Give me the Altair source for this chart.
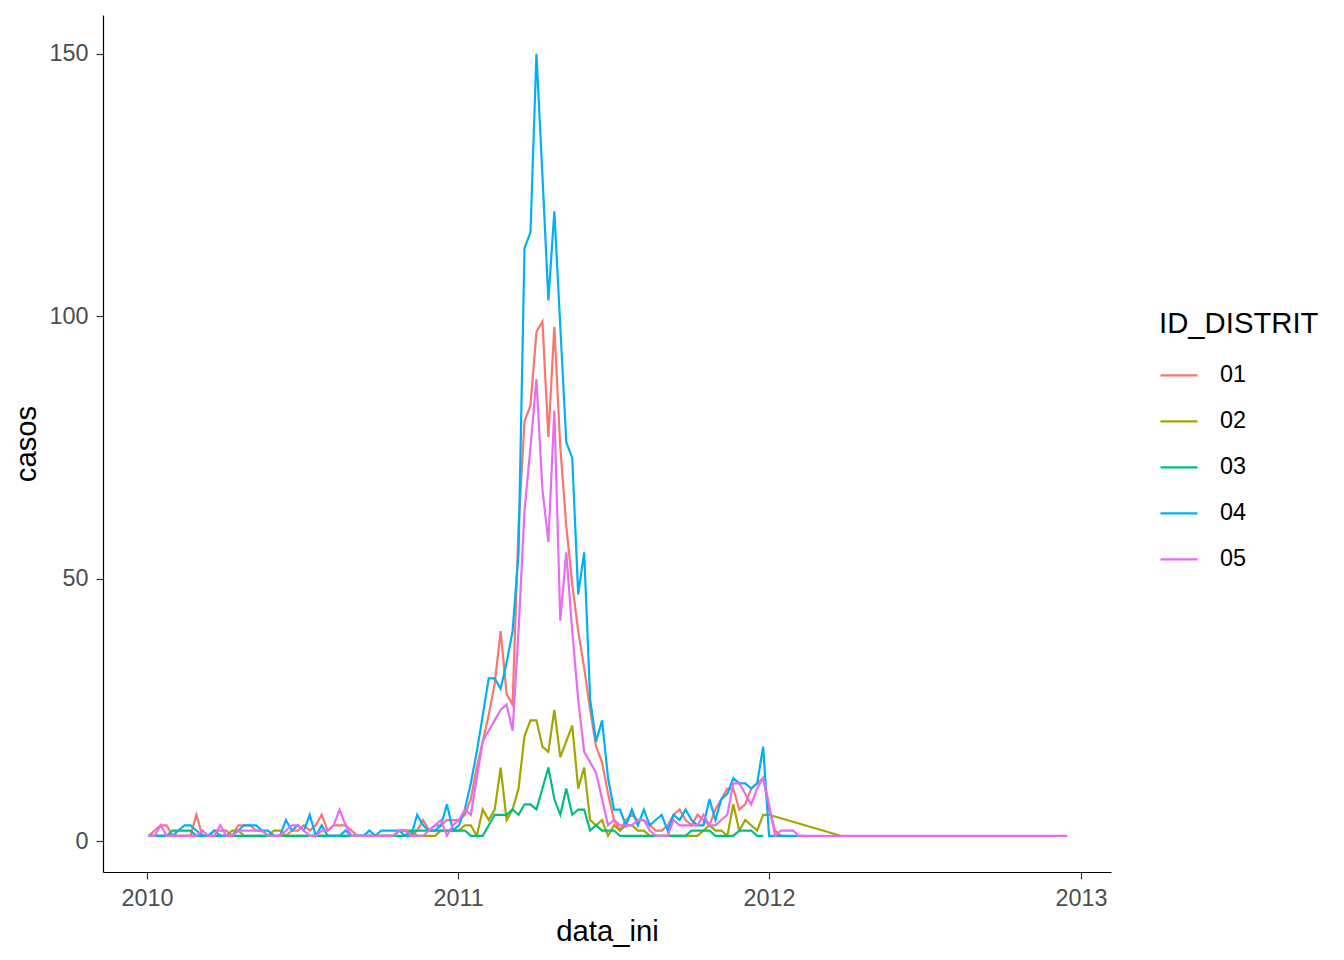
import altair as alt
import pandas as pd
from datetime import date, timedelta, datetime, timezone

# ---- data (weekly counts) ----
BASE = date(2010, 1, 3)          # week 0
districts = ["01", "02", "03", "04", "05"]
colors = ["#F8766D", "#A3A500", "#00BF7D", "#00B0F6", "#E76BF3"]

d01_2010 = [1, 2, 3, 3, 1, 1, 1, 1, 5, 1, 1, 2, 2, 2, 1, 3, 3, 3, 2, 2, 1, 1, 1, 1, 2,
            2, 3, 2, 3, 5, 2, 3, 3, 3, 2, 1, 1, 1, 1, 1, 1, 1, 2, 2, 1, 2, 4, 2, 3, 3,
            4, 4, 4]
d01_2011 = [5, 8, 14, 19, 24, 30, 40, 28, 26, 60,
            80, 83, 97, 99, 77, 98, 75, 60, 49, 40,
            33, 25, 18, 15, 9, 4, 2, 4, 5, 4,
            4, 3, 2, 2, 3, 5, 6, 4, 3, 5,
            4, 3, 6, 8, 10, 10, 6, 7, 10, 11,
            12, 6, 2, 1, 1]

d02_2010 = [1, 1, 1, 1, 1, 1, 1, 1, 1, 1, 1, 1, 1, 1, 2, 2, 1, 1, 1, 1, 1, 2, 2, 1, 1,
            1, 1, 1, 1, 1, 1, 1, 1, 1, 1, 1, 1, 1, 1, 1, 1, 1, 2, 2, 2, 1, 1, 1, 1, 2,
            2, 2, 2]
d02_2011 = [3, 3, 1, 6, 4, 6, 14, 4, 6, 10,
            20, 23, 23, 18, 17, 25, 16, 19, 22, 10,
            14, 4, 3, 4, 1, 3, 2, 3, 3, 2,
            2, 1, 1, 1, 1, 1, 1, 1, 1, 1,
            2, 3, 2, 2, 1, 7, 2, 4, 3, 2,
            5, 5]
d02_2012 = [1]   # week 116

d03_2010 = [1, 1, 1, 1, 2, 2, 2, 2, 1, 1, 1, 1, 1, 1, 1, 1, 1, 1, 1, 1, 1, 1, 1, 1, 1,
            1, 1, 1, 1, 1, 1, 1, 1, 1, 1, 1, 1, 1, 1, 1, 1, 1, 1, 1, 2, 2, 2, 2, 2, 2,
            2, 2, 2]
d03_2011 = [2, 1, 1, 1, 3, 5, 5, 5, 6, 5,
            7, 7, 6, 10, 14, 8, 5, 10, 5, 6,
            6, 2, 3, 2, 2, 2, 1, 1, 1, 1,
            1, 1, 1, 1, 1, 1, 1, 1, 2, 2,
            2, 2, 1, 1, 1, 1, 2, 2, 2, 1,
            1]

d04_2010 = [1, 1, 1, 1, 1, 2, 3, 3, 2, 1, 1, 2, 1, 1, 1, 2, 3, 3, 3, 2, 2, 1, 1, 4, 2,
            3, 2, 5, 1, 3, 1, 1, 1, 2, 1, 1, 1, 2, 1, 2, 2, 2, 2, 1, 1, 5, 3, 2, 2, 3,
            7, 2, 3]
d04_2011 = [6, 11, 17, 24, 31, 31, 29, 34, 40, 55,
            113, 116, 150, 127, 103, 120, 98, 76, 73, 47,
            55, 27, 19, 23, 12, 6, 6, 3, 6, 3,
            6, 3, 4, 5, 2, 5, 4, 6, 4, 3,
            3, 8, 4, 8, 9, 12, 11, 11, 10, 11,
            18, 1, 1, 1, 1, 1, 1, 1]

d05_2010 = [1, 1, 3, 1, 1, 1, 1, 1, 1, 2, 1, 1, 3, 1, 1, 2, 2, 2, 2, 2, 1, 1, 1, 2, 3,
            3, 2, 1, 1, 2, 2, 3, 6, 3, 1, 1, 1, 1, 1, 1, 1, 1, 2, 2, 1, 1, 1, 2, 3, 4,
            1, 3, 4]
d05_2011 = [6, 5, 12, 19, 21, 23, 25, 26, 21, 40,
            63, 75, 88, 67, 57, 82, 42, 55, 40, 27,
            17, 15, 13, 8, 3, 4, 3, 3, 3, 4,
            4, 2, 1, 1, 1, 4, 3, 3, 3, 3,
            5, 3, 3, 4, 5, 11, 11, 9, 7, 10,
            12, 7, 1, 2, 2, 2, 1]
d05_2012 = [1] * 45   # weeks 110-154

segments = {
    "01": [(0, d01_2010), (53, d01_2011)],
    "02": [(0, d02_2010), (53, d02_2011), (116, d02_2012)],
    "03": [(0, d03_2010), (53, d03_2011)],
    "04": [(0, d04_2010), (53, d04_2011)],
    "05": [(0, d05_2010), (53, d05_2011), (110, d05_2012)],
}

rows = []
for code in districts:
    for start, vals in segments[code]:
        for i, v in enumerate(vals):
            d = BASE + timedelta(weeks=start + i)
            rows.append({"data_ini": d.isoformat(), "casos": v, "ID_DISTRIT": code})
df = pd.DataFrame(rows)


def ms(y, m, d, h=0):
    return int(datetime(y, m, d, h, tzinfo=timezone.utc).timestamp() * 1000)


x_domain = [ms(2009, 11, 10, 9), ms(2013, 2, 5, 5)]
x_ticks = [ms(2010, 1, 1), ms(2011, 1, 1), ms(2012, 1, 1), ms(2013, 1, 1)]
y_ticks = [0, 50, 100, 150]

FONT = "Liberation Sans"
LBL = 23.4
TTL = 29.3

axis_common = dict(
    grid=False, domainColor="black", domainWidth=1.2,
    tickColor="#333333", tickWidth=1.2, tickSize=7,
    labelColor="#4D4D4D", labelFontSize=LBL, labelFont=FONT,
    titleFont=FONT, titleFontSize=TTL, titleColor="black", titleFontWeight="normal",
    labelOverlap=False, labelFlush=False,
)

chart = alt.Chart(df).mark_line(strokeWidth=2.2, clip=True).encode(
    x=alt.X("data_ini:T",
            scale=alt.Scale(type="utc", domain=x_domain, nice=False),
            axis=alt.Axis(values=x_ticks, format="%Y", title="data_ini",
                          labelPadding=8, titlePadding=8, **axis_common)),
    y=alt.Y("casos:Q",
            scale=alt.Scale(domain=[-5.9, 157.4], nice=False, zero=False),
            axis=alt.Axis(values=y_ticks, title="casos",
                          labelPadding=8, titlePadding=7, **axis_common)),
    color=alt.Color("ID_DISTRIT:N",
                    scale=alt.Scale(domain=districts, range=colors),
                    legend=alt.Legend(title="ID_DISTRIT", orient="none",
                                      legendX=1056, legendY=295,
                                      symbolType="stroke", symbolSize=1369,
                                      symbolStrokeWidth=2.2,
                                      labelFont=FONT, labelFontSize=LBL, labelColor="black",
                                      labelOffset=21,
                                      titleFont=FONT, titleFontSize=TTL, titleColor="black",
                                      titleFontWeight="normal", titlePadding=16,
                                      rowPadding=14)),
).properties(
    width=1008, height=857,
    padding={"left": 95, "top": 7, "right": 215, "bottom": 76},
    autosize=alt.AutoSizeParams(type="none"),
).configure_view(stroke=None)

chart.save("out.html", embed_options={"renderer": "svg", "actions": False})
